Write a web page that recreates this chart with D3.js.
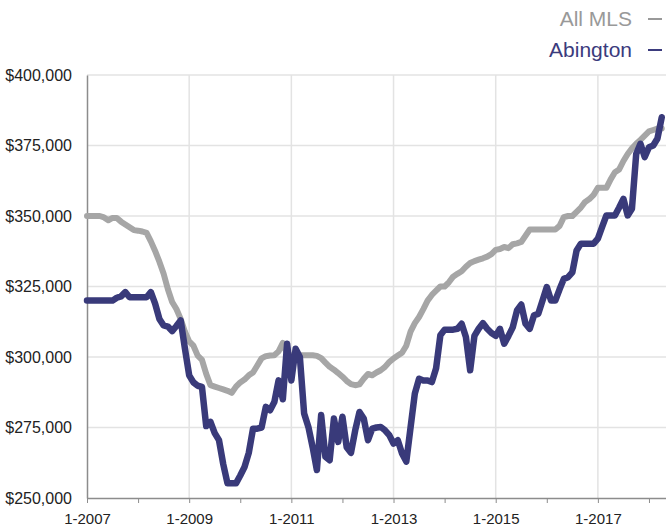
<!DOCTYPE html>
<html lang="en">
<head>
  <meta charset="utf-8">
  <title>All MLS vs Abington</title>
  <script src="https://cdn.jsdelivr.net/npm/d3@7"></script>
  <style>
    body { margin: 0; background: #fff; }
    text { font-family: "Liberation Sans", Arial, sans-serif; }
  </style>
</head>
<body>
<script>
// monthly values, Jan 2007 .. Apr 2018 (in $1000s)
var allMLS = [
  350,350,350,350,349.5,348.5,349.3,349.3,348,347,346,345,               // 2007
  344.8,344.5,344,341,337.6,333.8,329.5,324,319.5,317,313.5,309,          // 2008
  305.5,304,300.5,299,294,290,289.5,289,288.5,288,287.3,289.5,            // 2009
  291,292,293.5,294.5,297,299.5,300.3,300.5,300.6,302,305,301,            // 2010
  300.5,300.6,300.6,300.6,300.6,300.6,300.4,299.6,298,296.5,295.5,294.3,  // 2011
  293,291.5,290.4,290,290.3,292.3,294,293.5,294.5,295.3,296.5,298.2,      // 2012
  299.5,300.5,301.5,304,309,312,314.2,317,320,322,323.5,325,              // 2013
  325,326.5,328.5,329.5,330.4,332,333.3,334,334.5,335,335.6,336.5,        // 2014
  338,338.3,339,338.6,340,340.3,340.8,343,345.2,345.2,345.2,345.2,        // 2015
  345.2,345.2,345.2,346.5,349.6,350,350,351.5,353,355,356,357.5,          // 2016
  360,360,360,363,365.5,366.5,369.5,372,374,375.6,377,378.5,              // 2017
  380,380.5,381,381                                                       // 2018
];
var abington = [
  320,320,320,320,320,320,320,321,321.5,323,321.2,321.2,                  // 2007
  321.2,321.2,321.2,323,318.9,313.5,311.2,310.8,309.2,311,313,303,        // 2008
  293.5,291,289.8,289.4,275.5,277,273,270.5,262,255.2,255.2,255.2,        // 2009
  258,261,266,274.6,274.6,275,282.3,281.1,284,291.7,285,304.7,            // 2010
  291.7,302.9,300,280,275.2,268,259.9,279.4,264.6,263.4,278.2,269.9,      // 2011
  278.8,268,266,274,280.5,278.2,270.5,274.6,275,275.2,274,272.3,          // 2012
  269.3,270.5,265.8,262.9,275,287,292.3,291.7,291.7,291.1,296,307.7,      // 2013
  309.7,309.7,309.7,310,311.8,307.1,295.3,307.5,310,312,310,308.5,        // 2014
  307.5,310,304.7,307.5,310.5,316.5,318.6,311.8,310,314.8,315.3,320,      // 2015
  324.8,320,320,324,327.7,328.3,330,337.8,340.2,340.2,340.2,340.2,        // 2016
  342,346.1,350.2,350.2,350.2,353,356.1,350.2,352.6,372,375.6,370.9,      // 2017
  374.4,375,377.5,385                                                     // 2018
];
var yTicks = [250000, 275000, 300000, 325000, 350000, 375000, 400000];
var xTicks = [0, 12, 24, 36, 48, 60, 72, 84, 96, 108, 120, 132]; // month index of each January
var seriesNames = ["All MLS", "Abington"];
var seriesColors = ["#a6a6a6", "#393a7a"];
var labelColors = ["#999999", "#3b3b7d"];

var w = 666, h = 527;

var svg = d3.select("body").append("svg")
  .attr("width", w)
  .attr("height", h);

var x = d3.scaleLinear().domain([0, 136]).range([87, 666]);
var y = d3.scaleLinear().domain([250000, 400000]).range([498, 75]);

// gridlines
svg.append("g").selectAll("line")
  .data(yTicks.slice(1))
  .enter().append("line")
  .attr("x1", x(0)).attr("x2", x(136))
  .attr("y1", function(d) { return y(d); })
  .attr("y2", function(d) { return y(d); })
  .attr("stroke", "#e3e3e3")
  .attr("stroke-width", 1.5);

svg.append("g").selectAll("line")
  .data(xTicks.filter(function(m) { return m > 0 && m % 24 == 0; }))
  .enter().append("line")
  .attr("x1", function(d) { return x(d); })
  .attr("x2", function(d) { return x(d); })
  .attr("y1", y(400000)).attr("y2", y(250000))
  .attr("stroke", "#e3e3e3")
  .attr("stroke-width", 1.5);

// axes
var xAxis = svg.append("g")
  .attr("transform", "translate(0," + y(250000) + ")")
  .call(d3.axisBottom(x)
    .tickValues(xTicks)
    .tickSize(5)
    .tickSizeOuter(0)
    .tickPadding(10)
    .tickFormat(function(m) { return m % 24 == 0 ? "1-" + (2007 + m / 12) : ""; }));
xAxis.select(".domain").attr("stroke", "#8c8c8c").attr("stroke-width", 1.5);
xAxis.selectAll(".tick line").attr("stroke", "#8c8c8c");
xAxis.selectAll("text")
  .attr("font-family", "Liberation Sans, Arial, sans-serif")
  .attr("font-size", 15)
  .attr("fill", "#222");

var yAxis = svg.append("g")
  .attr("transform", "translate(" + x(0) + ",0)")
  .call(d3.axisLeft(y)
    .tickValues(yTicks)
    .tickSize(0)
    .tickPadding(15)
    .tickFormat(function(d) { return "$" + d3.format(",")(d); }));
yAxis.select(".domain").attr("stroke", "#8c8c8c").attr("stroke-width", 1.5);
yAxis.selectAll("text")
  .attr("font-family", "Liberation Sans, Arial, sans-serif")
  .attr("font-size", 16)
  .attr("fill", "#222");

// lines
var line = d3.line()
  .x(function(d, i) { return x(i); })
  .y(function(d) { return y(d * 1000); });

[allMLS, abington].forEach(function(s, k) {
  svg.append("path")
    .datum(s)
    .attr("fill", "none")
    .attr("stroke", seriesColors[k])
    .attr("stroke-width", k == 1 ? 6.5 : 6)
    .attr("stroke-linejoin", "round")
    .attr("stroke-linecap", "round")
    .attr("d", line);
});

// legend
var legend = svg.append("g");
seriesNames.forEach(function(name, k) {
  var by = 26 + k * 31;
  legend.append("text")
    .attr("x", 632)
    .attr("y", by)
    .attr("text-anchor", "end")
    .attr("font-size", 21)
    .attr("fill", labelColors[k])
    .text(name);
  legend.append("line")
    .attr("x1", 648).attr("x2", 662)
    .attr("y1", by - 7).attr("y2", by - 7)
    .attr("stroke", labelColors[k])
    .attr("stroke-width", 2);
});
</script>
</body>
</html>
